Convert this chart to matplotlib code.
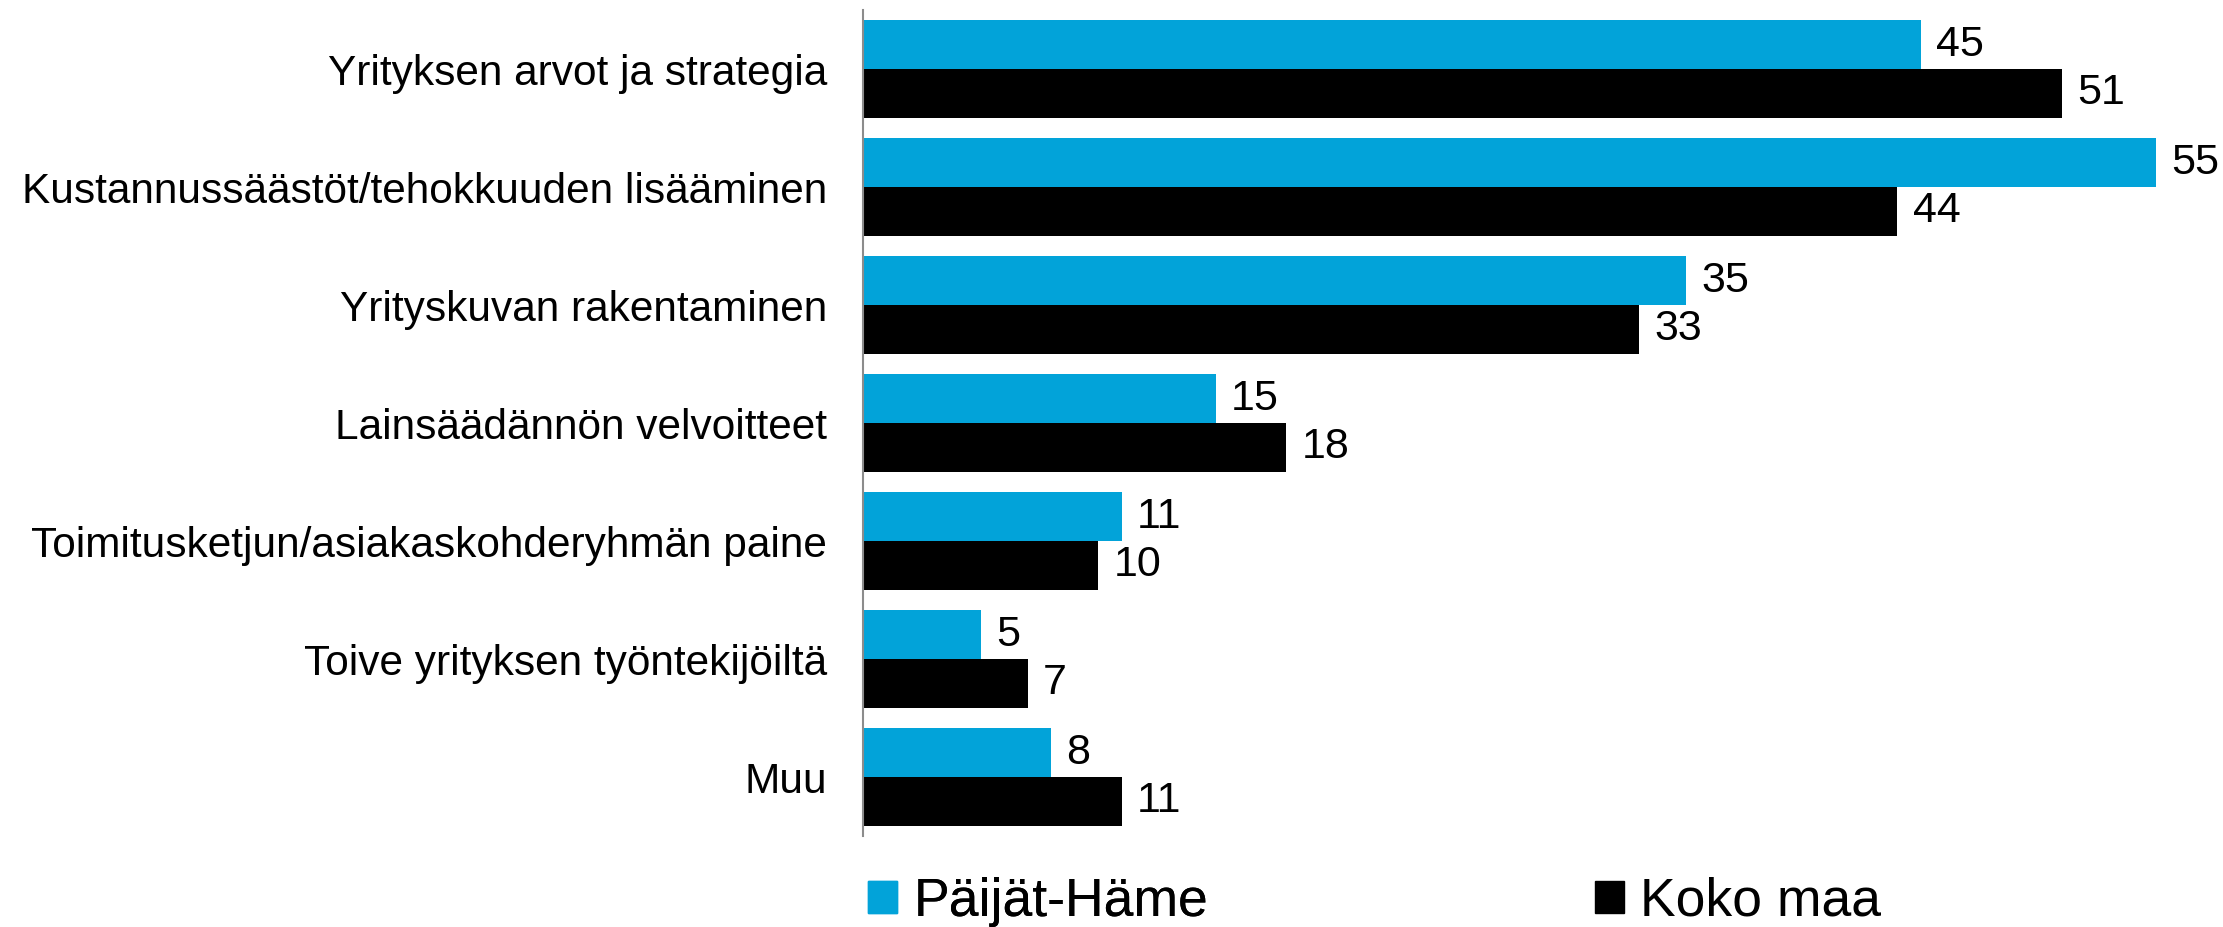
import matplotlib
matplotlib.use("Agg")
import matplotlib.pyplot as plt
import numpy as np
from matplotlib.patches import Patch

categories = [
    "Yrityksen arvot ja strategia",
    "Kustannussäästöt/tehokkuuden lisääminen",
    "Yrityskuvan rakentaminen",
    "Lainsäädännön velvoitteet",
    "Toimitusketjun/asiakaskohderyhmän paine",
    "Toive yrityksen työntekijöiltä",
    "Muu",
]
paijat_hame = [45, 55, 35, 15, 11, 5, 8]
koko_maa = [51, 44, 33, 18, 10, 7, 11]
series_names = ["Päijät-Häme", "Koko maa"]
colors = ["#02A3D9", "#000000"]

plt.rcParams['font.family'] = ['Liberation Sans', 'DejaVu Sans']

W, H = 2223, 927
fig = plt.figure(figsize=(W / 100, H / 100), dpi=100)
ax = fig.add_axes([863 / W, (H - 836) / H, 1360 / W, 826 / H])

y = np.arange(len(categories))
bh = 0.415
ax.barh(y - bh / 2, paijat_hame, height=bh, color=colors[0], label=series_names[0])
ax.barh(y + bh / 2, koko_maa, height=bh, color=colors[1], label=series_names[1])

for yi, v in zip(y, paijat_hame):
    ax.annotate(str(v), (v, yi - bh / 2), xytext=(11, 0), textcoords='offset points',
                va='center', ha='left', fontsize=31, color='black')
for yi, v in zip(y, koko_maa):
    ax.annotate(str(v), (v, yi + bh / 2), xytext=(11, 0), textcoords='offset points',
                va='center', ha='left', fontsize=31, color='black')

ax.set_ylim(6.5, -0.5)
ax.set_xlim(0, 57.85)
ax.set_yticks(y)
ax.set_yticklabels(categories, fontsize=30.5)
ax.tick_params(axis='y', length=0, pad=26)
ax.set_xticks([])
for s in ['top', 'right', 'bottom']:
    ax.spines[s].set_visible(False)
ax.spines['left'].set_color('#8c8c8c')
ax.spines['left'].set_linewidth(1.5)

h1 = Patch(color=colors[0])
h2 = Patch(color=colors[1])
leg1 = fig.legend([h1], [series_names[0]], loc='center left',
                  bbox_to_anchor=(868 / W, 1 - 902 / H), frameon=False, fontsize=38.5,
                  handlelength=0.55, handleheight=0.55, handletextpad=0.3,
                  borderpad=0, borderaxespad=0)
fig.add_artist(leg1)
leg2 = fig.legend([h2], [series_names[1]], loc='center left',
                  bbox_to_anchor=(1595 / W, 1 - 902 / H), frameon=False, fontsize=38.5,
                  handlelength=0.55, handleheight=0.55, handletextpad=0.3,
                  borderpad=0, borderaxespad=0)

fig.savefig("out.png", dpi=100)
